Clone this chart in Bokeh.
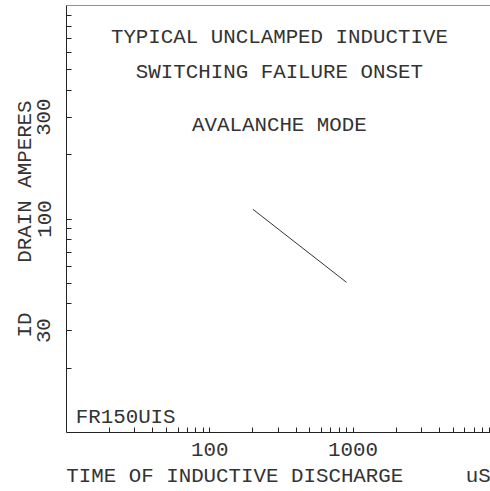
from bokeh.plotting import figure
from bokeh.models import FixedTicker, Label, Span
from bokeh.embed import file_html
from bokeh.resources import INLINE

# Data
times_us = [200, 900]
drain_amps = [111, 50.5]

x_major = [100, 1000]
x_major_labels = ["100", "1000"]
x_minor = [20, 30, 40, 50, 60, 70, 80, 90, 200, 300, 400, 500, 600, 700, 800, 900,
           2000, 3000, 4000, 5000, 6000, 7000, 8000, 9000]
y_major = [30, 100, 300]
y_major_labels = ["30", "100", "300"]
y_minor = [20, 30, 40, 50, 60, 70, 80, 90, 100, 200, 300, 400, 500, 600, 700, 800, 900]

title_lines = ["TYPICAL UNCLAMPED INDUCTIVE", "SWITCHING FAILURE ONSET", "AVALANCHE MODE"]
title_y = [711, 483, 273]
title_x = 306
tag_text = "FR150UIS"
tag_x = 11.6
tag_y = 11.75

FONT = "Liberation Mono"
FS = "20.8px"
COL = "#333333"

p = figure(width=490, height=491, x_axis_type="log", y_axis_type="log",
           x_range=(10, 9100), y_range=(10, 1000),
           output_backend="svg", toolbar_location=None,
           min_border_left=66, min_border_top=5, min_border_right=0, min_border_bottom=59)
p.grid.visible = False
p.outline_line_color = None
p.background_fill_color = "white"

p.line(times_us, drain_amps, line_color="#333333", line_width=1)

xa = p.xaxis[0]
xa.ticker = FixedTicker(ticks=x_major, minor_ticks=x_minor)
xa.major_label_overrides = dict(zip(x_major, x_major_labels))
xa.axis_label = "TIME OF INDUCTIVE DISCHARGE" + "\u00a0" * 5 + "uS"
ya = p.yaxis[0]
ya.ticker = FixedTicker(ticks=y_major, minor_ticks=y_minor)
ya.major_label_overrides = dict(zip(y_major, y_major_labels))
ya.axis_label = "ID" + "\u00a0" * 4 + "DRAIN AMPERES"
ya.major_label_orientation = "vertical"

for ax in (xa, ya):
    ax.axis_line_color = "#222222"
    ax.major_tick_line_color = "#222222"
    ax.minor_tick_line_color = "#222222"
    ax.major_tick_in = 5
    ax.major_tick_out = 0
    ax.minor_tick_in = 5
    ax.minor_tick_out = 0
    ax.major_label_text_font = FONT
    ax.major_label_text_font_size = FS
    ax.major_label_text_color = COL
    ax.axis_label_text_font = FONT
    ax.axis_label_text_font_size = FS
    ax.axis_label_text_font_style = "normal"
    ax.axis_label_text_color = COL

xa.major_label_standoff = 10
xa.axis_label_standoff = 6
ya.major_label_standoff = 16
ya.axis_label_standoff = -2

p.add_layout(Span(location=1000, dimension="width", line_color="#222222", line_width=1))

for txt, yy in zip(title_lines, title_y):
    p.add_layout(Label(x=title_x, y=yy, text=txt, text_align="center",
                       text_baseline="middle", text_font=FONT,
                       text_font_size=FS, text_color=COL))

p.add_layout(Label(x=tag_x, y=tag_y, text=tag_text, text_align="left",
                   text_baseline="middle", text_font=FONT,
                   text_font_size=FS, text_color=COL))

open("out.html", "w").write(file_html(p, INLINE))
